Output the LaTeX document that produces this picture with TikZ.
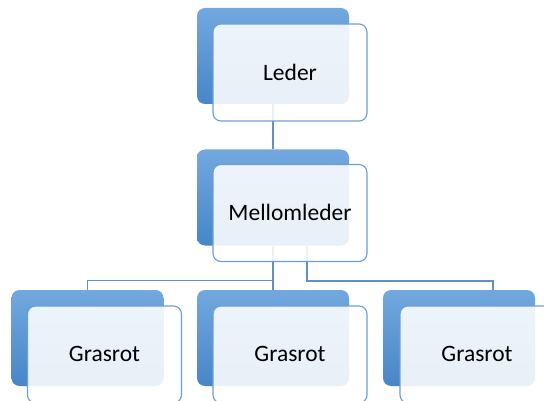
\documentclass[tikz,border=0pt]{standalone}
\usepackage{fontspec}
\setmainfont{Carlito}
\definecolor{blueTop}{HTML}{72A8DE}
\definecolor{blueBot}{HTML}{4886C8}
\definecolor{frameBlue}{HTML}{6A9FD6}
\definecolor{linkBlue}{HTML}{5F90C8}
\begin{document}
\begin{tikzpicture}[x=1pt,y=-1pt,
  back/.style={rectangle, rounded corners=8pt, inner sep=0pt, outer sep=0pt,
    minimum width=152pt, minimum height=96pt,
    top color=blueTop, bottom color=blueBot, draw=none},
  front/.style={rectangle, rounded corners=8pt, inner sep=0pt, outer sep=0pt,
    minimum width=154pt, minimum height=97pt,
    fill=white, fill opacity=0.88, draw=frameBlue, draw opacity=1, line width=1.1pt},
  label/.style={font=\fontsize{23.5}{28}\selectfont, text=black, anchor=base, inner sep=0pt},
  link/.style={draw=linkBlue, line width=1.1pt}]
\useasboundingbox (0,0) rectangle (544,401);
\clip (0,0) rectangle (544,401);

% coloured back plates
\node[back] (b0) at (273,56) {};
\node[back] (b1) at (273,197.5) {};
\node[back] (b2) at (87.5,338) {};
\node[back] (b3) at (273,338) {};
\node[back] (b4) at (459,338) {};

% connectors
\coordinate (hub) at (307,246);
\coordinate (drop) at (493,290);
\draw[link] (b0.south) -- (b1.north);
\draw[link] (b1.south) -- (b3.north);
\draw[link] (b1.south) -- ++(0,35) -| (b2.north);
\draw[link] (hub) -- ++(0,35) -| (drop);

% translucent front cards
\node[front] (f0) at (290,72.5) {};
\node[front] (f1) at (290,213) {};
\node[front] (f2) at (104.5,354.5) {};
\node[front] (f3) at (290,354.5) {};
\node[front] (f4) at (477,354.5) {};

% texts
\node[label] (t0) at (290,80.3) {Leder};
\node[label] (t1) at (290,220.5) {Mellomleder};
\node[label] (t2) at (104.5,361.5) {Grasrot};
\node[label] (t3) at (290,361.5) {Grasrot};
\node[label] (t4) at (477,361.5) {Grasrot};
\end{tikzpicture}
\end{document}
